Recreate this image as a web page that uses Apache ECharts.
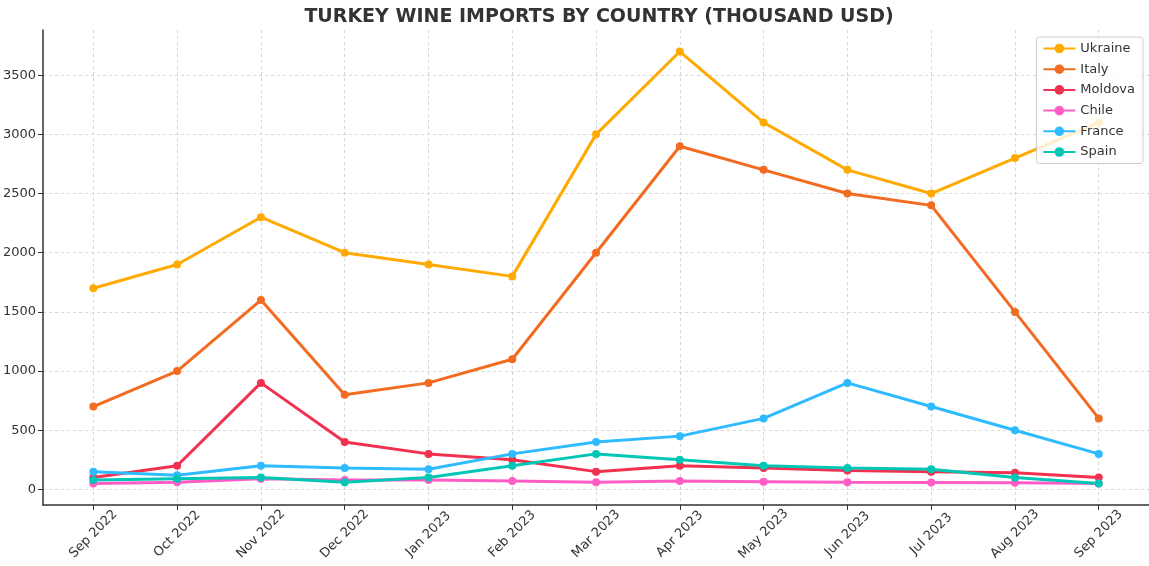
<!DOCTYPE html>
<html><head><meta charset="utf-8">
<script src="https://cdn.jsdelivr.net/npm/echarts@6/dist/echarts.min.js"></script>
<style>html,body{margin:0;padding:0;background:#fff}#c{width:1149px;height:566px}</style>
</head><body><div id="c"></div>
<script>
const categories = ['Sep 2022','Oct 2022','Nov 2022','Dec 2022','Jan 2023','Feb 2023','Mar 2023','Apr 2023','May 2023','Jun 2023','Jul 2023','Aug 2023','Sep 2023'];
const ukraine = [1700,1900,2300,2000,1900,1800,3000,3700,3100,2700,2500,2800,3100];
const italy   = [700,1000,1600,800,900,1100,2000,2900,2700,2500,2400,1500,600];
const moldova = [100,200,900,400,300,250,150,200,180,160,150,140,100];
const chile   = [50,60,90,80,80,70,60,70,65,60,58,55,50];
const france  = [150,120,200,180,170,300,400,450,600,900,700,500,300];
const spain   = [80,90,100,60,100,200,300,250,200,180,170,100,50];
const yTicks = [0,500,1000,1500,2000,2500,3000,3500];

const seriesDefs = [
  ['Ukraine', ukraine, '#FFAA00'],
  ['Italy', italy, '#F26B21'],
  ['Moldova', moldova, '#F2304F'],
  ['Chile', chile, '#FF5CC6'],
  ['France', france, '#2EBBFF'],
  ['Spain', spain, '#00C6B5']
];
const xIdx = categories.map((_, i) => i);
const font = 'DejaVu Sans';
const chart = echarts.init(document.getElementById('c'));
chart.setOption({
  animation: false,
  backgroundColor: '#fff',
  title: {
    text: 'TURKEY WINE IMPORTS BY COUNTRY (THOUSAND USD)',
    left: 594, textAlign: 'center', top: 3,
    textStyle: { fontFamily: font, fontWeight: 'bold', fontSize: 19, color: '#333' }
  },
  legend: {
    orient: 'vertical', right: 6, top: 37,
    itemWidth: 32, itemHeight: 12, itemGap: 7.7,
    padding: [5, 8, 5, 6],
    borderColor: '#ccc', borderWidth: 1, borderRadius: 3,
    backgroundColor: 'rgba(255,255,255,0.8)',
    textStyle: { fontFamily: font, fontSize: 13, color: '#333' },
    data: seriesDefs.map(s => s[0])
  },
  grid: { left: 40, right: 0, top: 30, bottom: 61, containLabel: false },
  xAxis: {
    type: 'value', min: -0.6, max: 12.6,
    axisLine: { show: true, onZero: false, lineStyle: { color: '#333', width: 1.5 } },
    axisTick: { show: true, length: 5, customValues: xIdx, lineStyle: { color: '#333' } },
    axisLabel: { customValues: xIdx, rotate: 45, align: 'center', verticalAlign: 'middle',
      fontFamily: font, fontSize: 13, color: '#333', margin: 29,
      formatter: v => categories[Math.round(v)] || '' },
    splitLine: { show: true, lineStyle: { color: '#ccc', type: [3, 3], width: 0.8 } }
  },
  yAxis: {
    type: 'value', min: -132, max: 3882,
    axisLine: { show: true, onZero: false, lineStyle: { color: '#333', width: 1.5 } },
    axisTick: { show: true, length: 5, customValues: yTicks, lineStyle: { color: '#333' } },
    axisLabel: { customValues: yTicks, fontFamily: font, fontSize: 13, color: '#333', margin: 7,
      formatter: v => String(v) },
    splitLine: { show: true, lineStyle: { color: '#ccc', type: [3, 3], width: 0.8 } }
  },
  series: seriesDefs.map(([name, vals, color]) => ({
    name, type: 'line',
    data: vals.map((v, i) => [i, v]),
    symbol: 'circle', symbolSize: 8,
    lineStyle: { width: 3, color },
    itemStyle: { color },
    emphasis: { disabled: true }
  }))
});
</script></body></html>
